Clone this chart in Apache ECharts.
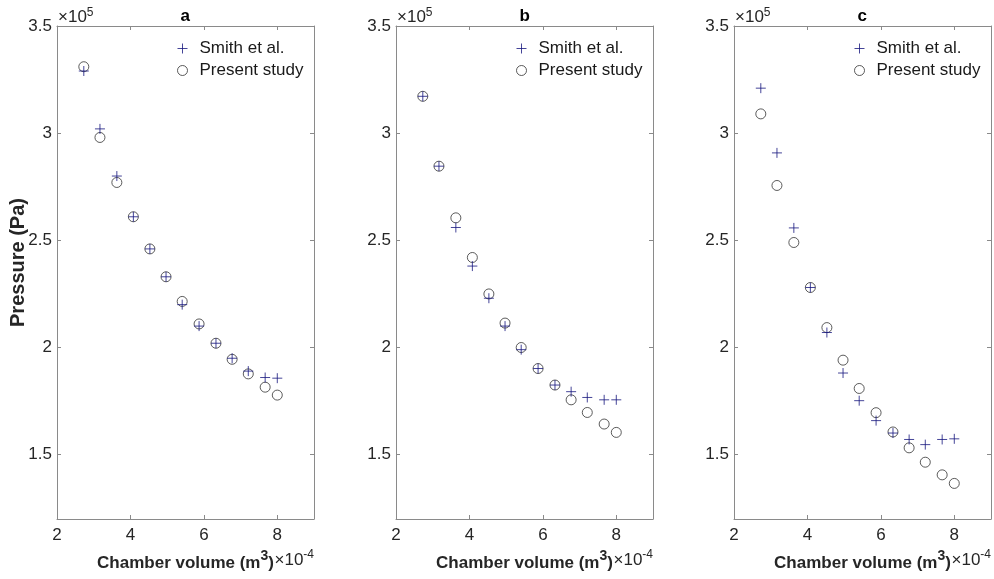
<!DOCTYPE html>
<html>
<head>
<meta charset="utf-8">
<script src="https://cdn.jsdelivr.net/npm/echarts@6/dist/echarts.min.js"></script>
<style>
html,body{margin:0;padding:0;background:#fff;}
#chart{width:994px;height:579px;}
</style>
</head>
<body>
<div id="chart"></div>
<script>
// Chamber volume (x 1e-4 m^3)
const volume = [2.73, 3.17, 3.63, 4.08, 4.53, 4.97, 5.41, 5.87, 6.33, 6.77, 7.21, 7.67, 8.0];
// Pressure (x 1e5 Pa)
const smithA   = [3.29, 3.02, 2.80, 2.61, 2.46, 2.33, 2.20, 2.10, 2.02, 1.95, 1.89, 1.86, 1.857];
const presentA = [3.31, 2.98, 2.77, 2.61, 2.46, 2.33, 2.215, 2.11, 2.02, 1.945, 1.877, 1.815, 1.778];
const smithB   = [3.172, 2.846, 2.56, 2.38, 2.23, 2.10, 1.99, 1.902, 1.825, 1.794, 1.767, 1.756, 1.756];
const presentB = [3.172, 2.846, 2.605, 2.42, 2.25, 2.114, 2.0, 1.902, 1.825, 1.756, 1.697, 1.643, 1.604];
const smithC   = [3.21, 2.908, 2.558, 2.28, 2.07, 1.881, 1.752, 1.659, 1.601, 1.571, 1.547, 1.571, 1.574];
const presentC = [3.09, 2.756, 2.49, 2.28, 2.093, 1.941, 1.809, 1.696, 1.606, 1.532, 1.465, 1.406, 1.366];

const panelTitles = ['a', 'b', 'c'];
const seriesNames = ['Smith et al.', 'Present study'];
const xTickLabels = [2, 4, 6, 8];
const xTickMarks = [4, 6, 8];
const yTickLabels = [1.5, 2, 2.5, 3, 3.5];
const yTickMarks = [1.5, 2, 2.5, 3];
const xRange = [2, 9];
const yRange = [1.2, 3.5];
const xLabel = 'Chamber volume (m{s|3})';
const yLabel = 'Pressure (Pa)';
const xExponent = '×10{s|-4}';
const yExponent = '{m|×10}{s|5}';

const panels = [[smithA, presentA], [smithB, presentB], [smithC, presentC]];

const FONT = "'Liberation Sans', Arial, Helvetica, sans-serif";
const AXIS_COLOR = '#8a8a8a';
const LABEL_COLOR = '#262626';
const PLUS_COLOR = '#16167e';
const CIRCLE_COLOR = '#333333';
const lefts = [57, 396, 734];
const gridTop = 26, gridW = 257, gridH = 493;

const grid = [], xAxis = [], yAxis = [], series = [], legend = [], title = [];

panels.forEach((pair, i) => {
  grid.push({left: lefts[i], top: gridTop, width: gridW, height: gridH, containLabel: false, outerBoundsMode: 'none'});
  title.push({
    text: panelTitles[i], left: lefts[i] + gridW / 2 - 5, top: 8, padding: 0,
    textStyle: {fontSize: 17, fontWeight: 'bold', color: '#000', fontFamily: FONT}
  });
  // bottom x axis
  xAxis.push({
    type: 'value', gridIndex: i, position: 'bottom', min: xRange[0], max: xRange[1],
    axisLine: {show: true, lineStyle: {color: AXIS_COLOR, width: 1}},
    axisTick: {show: true, inside: true, length: 4, customValues: xTickMarks, lineStyle: {color: AXIS_COLOR}},
    axisLabel: {customValues: xTickLabels, color: LABEL_COLOR, fontSize: 17, fontFamily: FONT, margin: 8},
    splitLine: {show: false},
    name: xLabel, nameLocation: 'middle', nameGap: 30, nameMoveOverlap: false,
    nameTextStyle: {
      fontSize: 17, fontWeight: 'bold', color: LABEL_COLOR, fontFamily: FONT, verticalAlign: 'top',
      rich: {s: {fontSize: 14, fontWeight: 'bold', color: LABEL_COLOR, fontFamily: FONT, verticalAlign: 'bottom', padding: [0, 0, 14, 0]}}
    }
  });
  // top x axis (box + ticks + y exponent)
  xAxis.push({
    type: 'value', gridIndex: i, position: 'top', min: xRange[0], max: xRange[1],
    axisLine: {show: true, lineStyle: {color: AXIS_COLOR, width: 1}},
    axisTick: {show: true, inside: true, length: 4, customValues: xTickMarks, lineStyle: {color: AXIS_COLOR}},
    axisLabel: {show: false},
    splitLine: {show: false},
    name: yExponent, nameLocation: 'start', nameGap: -1,
    nameTextStyle: {
      fontSize: 17, color: LABEL_COLOR, fontFamily: FONT, align: 'left', verticalAlign: 'bottom',
      rich: {
        m: {fontSize: 17, lineHeight: 13, color: LABEL_COLOR, fontFamily: FONT, verticalAlign: 'bottom'},
        s: {fontSize: 12, color: LABEL_COLOR, fontFamily: FONT, verticalAlign: 'bottom', padding: [0, 0, 7, 0]}
      }
    }
  });
  // left y axis
  yAxis.push({
    type: 'value', gridIndex: i, position: 'left', min: yRange[0], max: yRange[1],
    axisLine: {show: true, lineStyle: {color: AXIS_COLOR, width: 1}},
    axisTick: {show: true, inside: true, length: 4, customValues: yTickMarks, lineStyle: {color: AXIS_COLOR}},
    axisLabel: {customValues: yTickLabels, color: LABEL_COLOR, fontSize: 17, fontFamily: FONT, margin: 5},
    splitLine: {show: false},
    name: i === 0 ? yLabel : '', nameLocation: 'middle', nameGap: 29, nameMoveOverlap: false,
    nameTextStyle: {fontSize: 20, fontWeight: 'bold', color: LABEL_COLOR, fontFamily: FONT, padding: [0, 0, 0, 20]}
  });
  // right y axis (box + ticks + x exponent)
  yAxis.push({
    type: 'value', gridIndex: i, position: 'right', min: yRange[0], max: yRange[1],
    axisLine: {show: true, lineStyle: {color: AXIS_COLOR, width: 1}},
    axisTick: {show: true, inside: true, length: 4, customValues: yTickMarks, lineStyle: {color: AXIS_COLOR}},
    axisLabel: {show: false},
    splitLine: {show: false},
    name: xExponent, nameLocation: 'start', nameGap: 30,
    nameTextStyle: {
      fontSize: 17, color: LABEL_COLOR, fontFamily: FONT, align: 'right', verticalAlign: 'top',
      rich: {s: {fontSize: 12, color: LABEL_COLOR, fontFamily: FONT, verticalAlign: 'bottom', padding: [0, 0, 10, 0]}}
    }
  });
  series.push({
    name: seriesNames[0], type: 'scatter', xAxisIndex: 2 * i, yAxisIndex: 2 * i,
    symbol: 'path://M5,0 L5,10 M0,5 L10,5', symbolSize: 10,
    itemStyle: {color: 'transparent', borderColor: PLUS_COLOR, borderWidth: 1},
    data: volume.map((v, k) => [v, pair[0][k]]),
    z: 3
  });
  series.push({
    name: seriesNames[1], type: 'scatter', xAxisIndex: 2 * i, yAxisIndex: 2 * i,
    symbol: 'circle', symbolSize: 10,
    itemStyle: {color: 'transparent', borderColor: CIRCLE_COLOR, borderWidth: 1},
    data: volume.map((v, k) => [v, pair[1][k]]),
    z: 2
  });
  legend.push({
    left: lefts[i] + 115, top: 35, orient: 'vertical',
    itemWidth: 24, itemHeight: 10, itemGap: 5,
    selectedMode: false,
    itemStyle: {borderWidth: 1},
    data: seriesNames,
    textStyle: {fontSize: 17, color: '#1a1a1a', fontFamily: FONT}
  });
});

const chart = echarts.init(document.getElementById('chart'), null, {renderer: 'canvas'});
chart.setOption({
  backgroundColor: '#fff',
  animation: false,
  title, grid, xAxis, yAxis, legend, series
});
</script>
</body>
</html>
